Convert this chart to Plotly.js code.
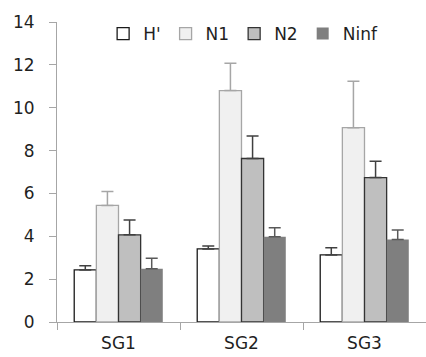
<!DOCTYPE html>
<html>
<head>
<meta charset="utf-8">
<script src="https://cdn.plot.ly/plotly-3.0.1.min.js"></script>
<style>html,body{margin:0;padding:0;background:#fff;}#chart{width:426px;height:357px;}</style>
</head>
<body>
<div id="chart"></div>
<script>
const categories = ["SG1", "SG2", "SG3"];
const seriesNames = ["H'", "N1", "N2", "Ninf"];
const hValues = [2.43, 3.41, 3.13];
const hErrors = [0.19, 0.14, 0.33];
const n1Values = [5.44, 10.8, 9.07];
const n1Errors = [0.65, 1.27, 2.17];
const n2Values = [4.07, 7.63, 6.74];
const n2Errors = [0.69, 1.05, 0.76];
const ninfValues = [2.48, 3.98, 3.85];
const ninfErrors = [0.5, 0.42, 0.44];
const yTicks = [0, 2, 4, 6, 8, 10, 12, 14];

const fills = ["#ffffff", "#f0f0f0", "#bfbfbf", "#7f7f7f"];
const outlines = ["#1a1a1a", "#a6a6a6", "#333333", "#7f7f7f"];
const errColors = ["#404040", "#a6a6a6", "#404040", "#595959"];
const vals = [hValues, n1Values, n2Values, ninfValues];
const errs = [hErrors, n1Errors, n2Errors, ninfErrors];

const traces = seriesNames.map((name, i) => ({
  type: "bar",
  name: name,
  x: categories,
  y: vals[i],
  marker: {color: fills[i], line: {color: outlines[i], width: i === 3 ? 0 : 1.3}},
  error_y: {type: "data", symmetric: false, array: errs[i], arrayminus: [0, 0, 0],
            color: errColors[i], thickness: 1.5, width: 6}
}));

const font = {family: "DejaVu Sans, sans-serif", size: 17, color: "#1f1f1f"};
const layout = {
  width: 426, height: 357,
  margin: {l: 57, r: 0, t: 22, b: 35},
  paper_bgcolor: "#ffffff", plot_bgcolor: "#ffffff",
  font: font,
  barmode: "group", bargap: 0.28, bargroupgap: 0,
  showlegend: true,
  legend: {orientation: "h", x: 0.125, y: 1.02, xanchor: "left", yanchor: "top",
           font: font, itemwidth: 30, traceorder: "normal",
           bgcolor: "rgba(0,0,0,0)"},
  xaxis: {type: "category", showline: true, linecolor: "#a6a6a6", linewidth: 1,
          ticks: "outside", tickson: "boundaries", ticklen: 7, tickcolor: "#a6a6a6",
          showgrid: false, zeroline: false, tickfont: font, ticklabelstandoff: 6},
  yaxis: {range: [0, 14], tickvals: yTicks, showline: true, linecolor: "#a6a6a6",
          linewidth: 1, ticks: "outside", ticklen: 7, tickcolor: "#a6a6a6",
          showgrid: false, zeroline: false, tickfont: font, ticklabelstandoff: 11}
};

Plotly.newPlot("chart", traces, layout, {displayModeBar: false, staticPlot: true});
</script>
</body>
</html>
